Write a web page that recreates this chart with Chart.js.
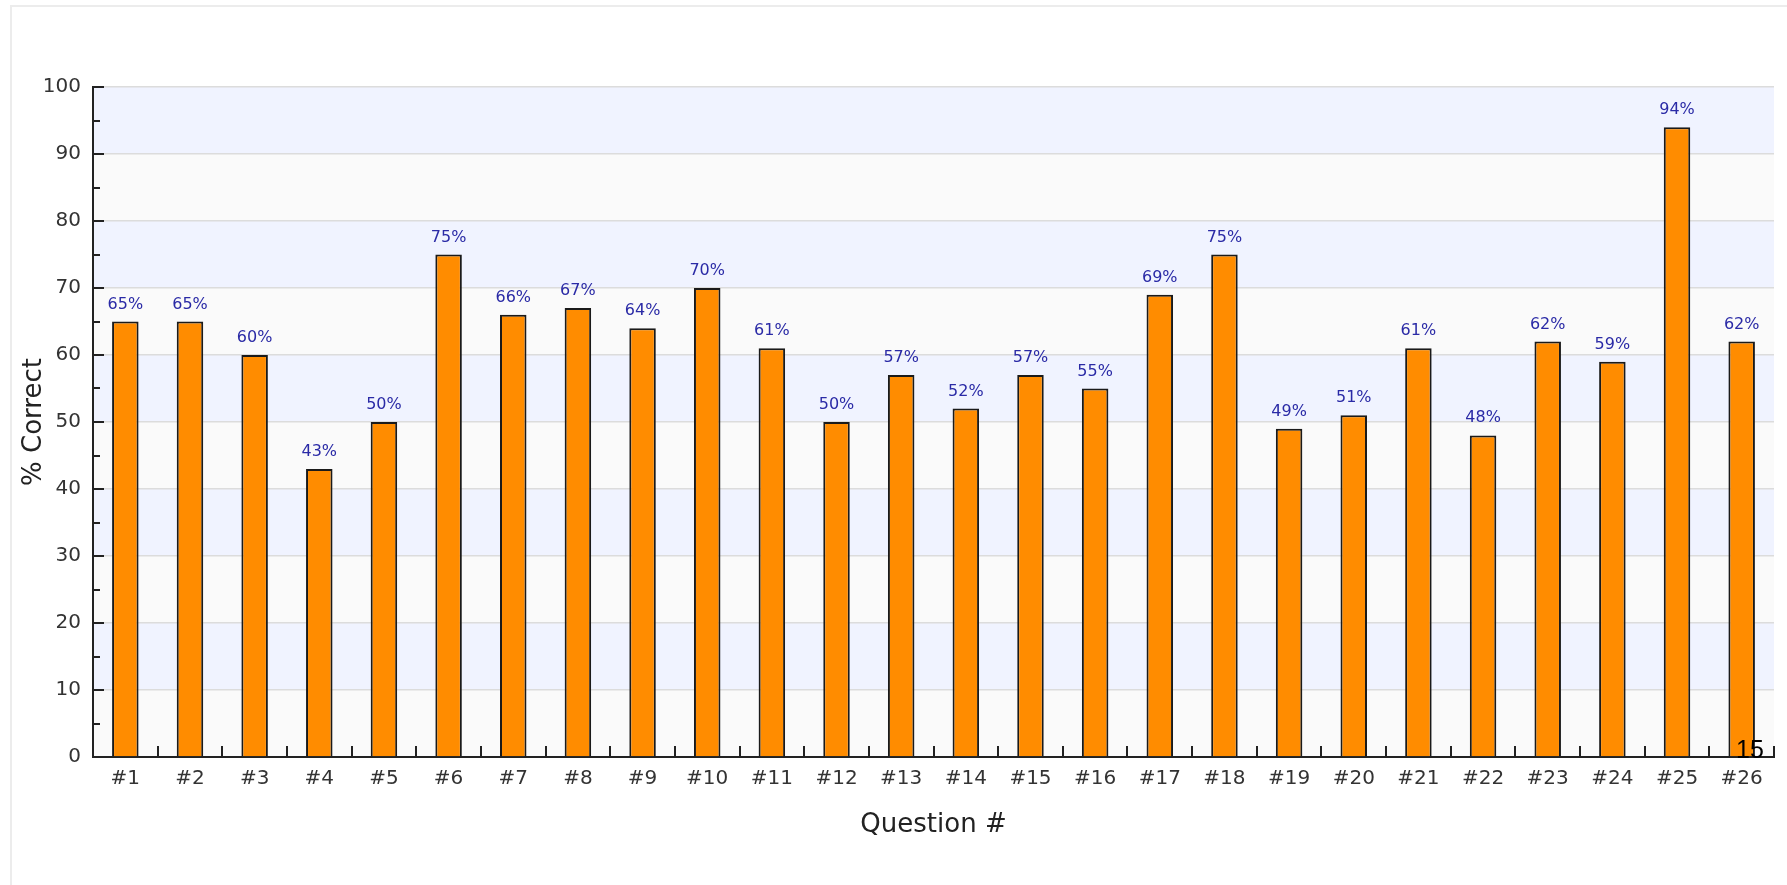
<!DOCTYPE html>
<html>
<head>
<meta charset="utf-8">
<script src="https://cdn.jsdelivr.net/npm/chart.js@4.4.1/dist/chart.umd.min.js"></script>
<style>
  html, body { margin: 0; padding: 0; background: #fff; overflow: hidden; }
  #wrap { position: relative; width: 1787px; height: 885px; }
  #frame { position: absolute; left: 10px; top: 5px; width: 1800px; height: 900px; border: 2px solid #ececec; }
  #chart { position: absolute; left: 0; top: 0; }
  #pageNo { position: absolute; left: 1736px; top: 737px; font: 25px "Liberation Sans", Arial, sans-serif; color: #000; line-height: 1; }
</style>
</head>
<body>
<div id="wrap">
  <div id="frame"></div>
  <canvas id="chart" width="1787" height="885"></canvas>
  <div id="pageNo">15</div>
</div>
<script>
// ----------------------- Data ----------------------------------
const questions = ['#1', '#2', '#3', '#4', '#5', '#6', '#7', '#8', '#9', '#10', '#11', '#12', '#13',
                   '#14', '#15', '#16', '#17', '#18', '#19', '#20', '#21', '#22', '#23', '#24', '#25', '#26'];
const percentCorrect = [65, 65, 60, 43, 50, 75, 66, 67, 64, 70, 61, 50, 57,
                        52, 57, 55, 69, 75, 49, 51, 61, 48, 62, 59, 94, 62];
const yMin = 0;
const yMax = 100;
const yStep = 5;

// ----------------------- Plugins ----------------------------------
// alternating light bands behind the grid
const bandsPlugin = {
  id: 'bands',
  beforeDraw(chart) {
    const { ctx, chartArea, scales } = chart;
    const y = scales.y;
    ctx.save();
    for (let v = yMin; v < yMax; v += 10) {
      const top = y.getPixelForValue(v + 10);
      const bottom = y.getPixelForValue(v);
      ctx.fillStyle = (v / 10) % 2 === 0 ? '#fafafa' : '#f0f3ff';
      ctx.fillRect(chartArea.left, top, chartArea.right - chartArea.left, bottom - top);
    }
    ctx.restore();
  }
};

// tick marks pointing into the plot area
const innerTicksPlugin = {
  id: 'innerTicks',
  afterDraw(chart) {
    const { ctx, chartArea, scales } = chart;
    ctx.save();
    ctx.strokeStyle = '#222';
    ctx.lineWidth = 2;
    ctx.beginPath();
    scales.y.ticks.forEach(t => {
      const py = Math.round(scales.y.getPixelForValue(t.value));
      const len = t.value % 10 === 0 ? 11 : 7;
      ctx.moveTo(chartArea.left, py);
      ctx.lineTo(chartArea.left + len, py);
    });
    for (let i = 0; i <= questions.length; i++) {
      const px = Math.round(scales.x.getPixelForValue(i - 0.5));
      ctx.moveTo(px, chartArea.bottom);
      ctx.lineTo(px, chartArea.bottom - 11);
    }
    ctx.stroke();
    ctx.restore();
  }
};

// percent labels above each bar
const valueLabelsPlugin = {
  id: 'valueLabels',
  afterDatasetsDraw(chart) {
    const { ctx } = chart;
    const meta = chart.getDatasetMeta(0);
    ctx.save();
    ctx.font = '16px "DejaVu Sans", Verdana, sans-serif';
    ctx.fillStyle = '#2a2aa6';
    ctx.textAlign = 'center';
    ctx.textBaseline = 'alphabetic';
    meta.data.forEach((bar, i) => {
      ctx.fillText(percentCorrect[i] + '%', bar.x, bar.y - 13);
    });
    ctx.restore();
  }
};

// ----------------------- Chart ----------------------------------
const tickFont = { family: '"DejaVu Sans", Verdana, sans-serif', size: 20 };
const titleFont = { family: '"DejaVu Sans", Verdana, sans-serif', size: 26 };

new Chart(document.getElementById('chart'), {
  type: 'bar',
  data: {
    labels: questions,
    datasets: [{
      label: '% Correct',
      data: percentCorrect,
      backgroundColor: '#ff8c00',
      borderColor: '#1a1a1a',
      borderWidth: 2,
      barPercentage: 1,
      categoryPercentage: 0.41
    }]
  },
  options: {
    responsive: false,
    animation: false,
    devicePixelRatio: 1,
    layout: { padding: { top: 87, right: 13, left: 0, bottom: 0 } },
    plugins: {
      legend: { display: false },
      tooltip: { enabled: false }
    },
    scales: {
      x: {
        afterFit: scale => { scale.height = 128; },
        grid: { display: false, drawTicks: false },
        border: { color: '#222', width: 2 },
        ticks: { color: '#333', font: tickFont, padding: 10, maxRotation: 0, autoSkip: false },
        title: { display: true, text: 'Question #', color: '#222', font: titleFont, padding: { top: 0, bottom: 44 } }
      },
      y: {
        min: yMin,
        max: yMax,
        afterFit: scale => { scale.width = 93; },
        grid: {
          drawTicks: false,
          color: ctx => (ctx.tick && ctx.tick.value % 10 === 0) ? '#dcdcdc' : 'rgba(0,0,0,0)',
          lineWidth: 1.5
        },
        border: { color: '#222', width: 2 },
        ticks: {
          stepSize: yStep,
          color: '#333',
          font: tickFont,
          padding: 12,
          callback: v => v % 10 === 0 ? v : ''
        },
        title: { display: true, text: '% Correct', color: '#222', font: titleFont, padding: { top: 19, bottom: 0 } }
      }
    }
  },
  plugins: [bandsPlugin, innerTicksPlugin, valueLabelsPlugin]
});
</script>
</body>
</html>
